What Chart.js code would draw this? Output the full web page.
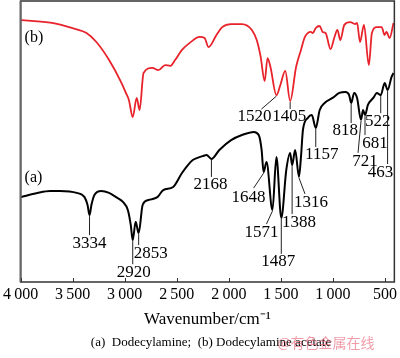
<!DOCTYPE html>
<html>
<head>
<meta charset="utf-8">
<script src="https://cdn.jsdelivr.net/npm/chart.js@4"></script>
<style>
html, body { margin: 0; padding: 0; background: #fff; }
#wrap { width: 400px; height: 358px; position: relative; }
</style>
</head>
<body>
<div id="wrap"><canvas id="ftir"></canvas></div>
<script>
// Wavenumber (cm-1) and transmittance (a.u.)
const wnB = [4000, 3698, 3509, 3367, 3272, 3150, 3036, 2989, 2960, 2923, 2885, 2857, 2819, 2734, 2677,
    2611, 2564, 2516, 2450, 2375, 2280, 2233, 2195, 2119, 2063, 1978, 1874, 1779, 1732, 1694,
    1656, 1628, 1600, 1543, 1505, 1458, 1411, 1354, 1307, 1269, 1212, 1193, 1165, 1127, 1099,
    1070, 1023, 985, 957, 929, 891, 834, 787, 768, 740, 702, 655, 626, 579, 532, 504, 485, 456, 418];
const tB = [93.2, 92.2, 90.4, 88.6, 85.4, 79.0, 71.2, 67.3, 64.8, 58.7, 65.5, 61.2, 74.4, 76.2, 75.4,
    77.2, 76.9, 79.0, 82.6, 85.1, 87.2, 86.8, 83.6, 87.9, 90.7, 91.8, 91.8, 89.7, 86.1, 80.1,
    71.5, 79.7, 76.5, 66.5, 70.1, 75.1, 64.4, 76.5, 82.6, 87.2, 89.0, 88.6, 90.4, 91.1, 89.0,
    88.6, 82.9, 87.2, 89.7, 86.1, 91.5, 92.5, 91.8, 92.2, 85.4, 91.5, 77.2, 88.6, 90.7, 90.7, 87.9, 89.0, 86.8, 92.2];

const wnA = [4000, 3839, 3716, 3622, 3461, 3386, 3357, 3338, 3320, 3291, 3225, 3150, 3083, 3017, 2970,
    2942, 2923, 2895, 2866, 2828, 2772, 2686, 2630, 2535, 2450, 2393, 2346, 2308, 2252, 2214,
    2167, 2091, 1978, 1874, 1760, 1713, 1685, 1666, 1638, 1581, 1543, 1496, 1448, 1411, 1392,
    1363, 1326, 1307, 1288, 1241, 1203, 1165, 1127, 1080, 1004, 938, 881, 844, 825, 796,
    768, 730, 711, 692, 664, 607, 579, 541, 503, 475, 437, 418];
const tA = [30.2, 31.7, 32.4, 32.4, 31.7, 30.2, 27.4, 23.8, 27.4, 31.0, 32.4, 31.7, 30.2, 28.5, 25.6,
    20.3, 14.9, 21.4, 17.4, 27.4, 29.2, 30.2, 32.7, 33.8, 38.8, 41.6, 43.4, 44.1, 44.8, 45.2,
    43.8, 47.0, 50.5, 52.3, 53.4, 52.3, 47.0, 39.1, 42.7, 25.6, 44.5, 22.8, 39.9, 45.9, 41.6,
    47.0, 37.4, 44.5, 54.1, 58.4, 59.4, 54.8, 61.2, 63.7, 65.5, 67.3, 67.6, 66.5, 63.7, 67.3,
    65.5, 57.7, 61.2, 59.4, 63.0, 65.8, 67.3, 66.5, 70.8, 68.3, 73.0, 74.4];

const xTicks = [4000, 3500, 3000, 2500, 2000, 1500, 1000, 500];

// Peak labels: text and the wavenumber of the curve point they point at
const peaksA = [['3334', 3338], ['2920', 2923], ['2853', 2866], ['2168', 2167], ['1648', 1666],
    ['1571', 1581], ['1487', 1496], ['1388', 1392], ['1316', 1326], ['1157', 1165],
    ['818', 825], ['721', 730], ['681', 692], ['522', 541], ['463', 475]];
const peaksB = [['1520', 1543], ['1405', 1411]];

// leader end and text centre, in px relative to the marked point
const labelOffsets = {
    '3334': [0, 20, 0, 28], '2920': [0, 24, 1, 32], '2853': [0, 12, 12, 20], '2168': [0, 18, -1, 26],
    '1648': [-10, 16, -15, 25], '1571': [-6, 14, -11, 22], '1487': [0, 36, -3, 44],
    '1388': [0, 49, 7, 57], '1316': [6, 17, 12, 26], '1157': [0, 19, 6, 27], '818': [0, 20, -6, 28],
    '721': [-3, 33, 4, 42], '681': [0, 20, 10, 28], '522': [0, 18, -3, 26], '463': [0, 74, -7, 82],
    '1520': [-15, 14, -22, 21], '1405': [0, 8, -1, 15]
};

const serif = '"Liberation Serif", "Times New Roman", serif';

const toPoints = (xs, ys) => xs.map((x, i) => ({ x: x, y: ys[i] }));

// frame, inward ticks, peak labels, caption
const decor = {
    id: 'decor',
    afterDatasetsDraw(chart) {
        const ctx = chart.ctx;
        const a = chart.chartArea;
        const xs = chart.scales.x, ys = chart.scales.y;
        ctx.save();
        ctx.strokeStyle = '#333';
        ctx.lineWidth = 1.5;
        ctx.strokeRect(a.left, a.top, a.right - a.left, a.bottom - a.top);
        ctx.strokeStyle = '#666';
        ctx.lineWidth = 2;
        ctx.beginPath();
        ctx.moveTo(a.left, a.top);
        ctx.lineTo(a.left, a.bottom);
        ctx.stroke();
        ctx.strokeStyle = '#333';
        ctx.lineWidth = 1;
        xTicks.forEach(v => {
            const px = Math.round(xs.getPixelForValue(v)) + 0.5;
            ctx.beginPath();
            ctx.moveTo(px, a.bottom);
            ctx.lineTo(px, a.bottom - 4);
            ctx.stroke();
        });

        ctx.font = '17px ' + serif;
        ctx.textAlign = 'center';
        ctx.textBaseline = 'middle';
        ctx.fillStyle = '#000';
        const drawPeaks = (peaks, wn, t) => {
            peaks.forEach(([txt, w]) => {
                let best = 0;
                wn.forEach((v, i) => { if (Math.abs(v - w) < Math.abs(wn[best] - w)) best = i; });
                const px = xs.getPixelForValue(wn[best]);
                const py = ys.getPixelForValue(t[best]);
                const o = labelOffsets[txt];
                ctx.strokeStyle = '#222';
                ctx.lineWidth = 1;
                ctx.beginPath();
                ctx.moveTo(px, py + 1);
                ctx.lineTo(px + o[0], py + o[1]);
                ctx.stroke();
                ctx.fillText(txt, px + o[2], py + o[3]);
            });
        };
        drawPeaks(peaksA, wnA, tA);
        drawPeaks(peaksB, wnB, tB);

        ctx.font = '16px ' + serif;
        ctx.textAlign = 'left';
        ctx.fillText('(b)', a.left + 4, 38);
        ctx.fillText('(a)', a.left + 4, 178);

        ctx.textAlign = 'center';
        ctx.font = '13px ' + serif;
        ctx.fillText('(a)  Dodecylamine;  (b) Dodecylamine acetate', 211, 343);
        ctx.font = '14px "Noto Sans CJK SC"';
        ctx.fillStyle = 'rgba(230, 90, 110, 0.6)';
        ctx.fillText('@有色金属在线', 326, 343);
        ctx.restore();
    }
};

const ctx = document.getElementById('ftir').getContext('2d');
const chart = new Chart(ctx, {
    type: 'line',
    data: {
        datasets: [
            {
                label: '(b) Dodecylamine acetate',
                data: toPoints(wnB, tB),
                borderColor: '#e8232b',
                borderWidth: 1.8,
                pointRadius: 0,
                cubicInterpolationMode: 'monotone',
                fill: false
            },
            {
                label: '(a) Dodecylamine',
                data: toPoints(wnA, tA),
                borderColor: '#000',
                borderWidth: 2,
                pointRadius: 0,
                cubicInterpolationMode: 'monotone',
                fill: false
            }
        ]
    },
    options: {
        responsive: true,
        maintainAspectRatio: false,
        animation: false,
        layout: { padding: { left: 18, right: 3, top: 1, bottom: 28 } },
        scales: {
            x: {
                type: 'linear',
                reverse: true,
                min: 410,
                max: 4000,
                afterBuildTicks: s => { s.ticks = xTicks.map(v => ({ value: v })); },
                afterFit: s => { s.height = 48; },
                grid: { display: false, drawTicks: false },
                border: { display: false },
                ticks: {
                    autoSkip: false,
                    maxRotation: 0,
                    padding: 3,
                    color: '#000',
                    font: { family: serif, size: 16 },
                    callback: v => v >= 1000 ? Math.floor(v / 1000) + '\u2009' + String(v % 1000).padStart(3, '0') : String(v)
                },
                title: {
                    display: true,
                    text: 'Wavenumber/cm\u207B\u00B9',
                    color: '#000',
                    font: { family: serif, size: 17 },
                    padding: { top: 0, bottom: 0 }
                }
            },
            y: {
                display: false,
                min: 0,
                max: 100
            }
        },
        plugins: {
            legend: { display: false },
            tooltip: { enabled: false }
        }
    },
    plugins: [decor]
});
</script>
</body>
</html>
